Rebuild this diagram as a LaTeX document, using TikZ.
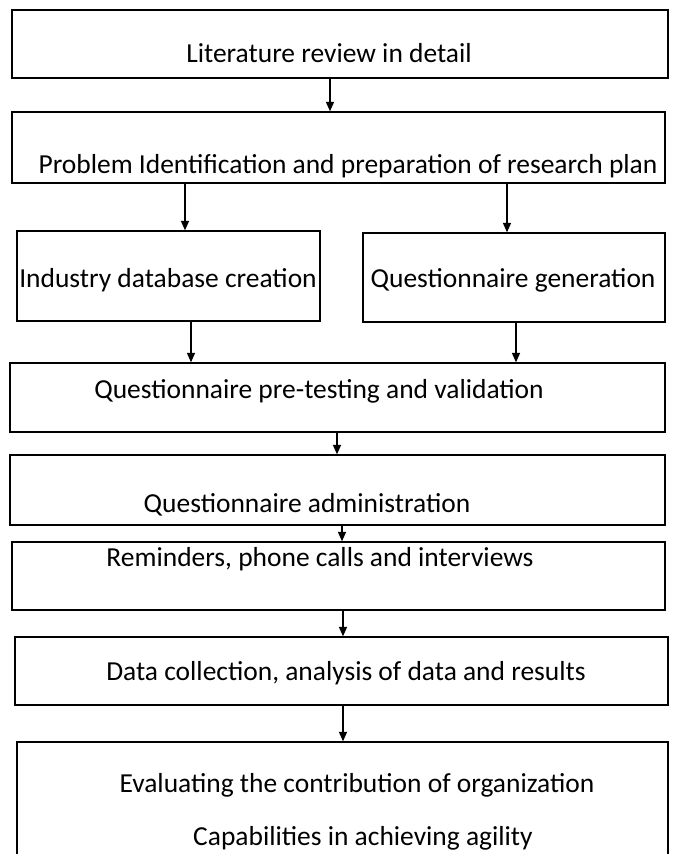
\documentclass[tikz,border=0pt]{standalone}
\usepackage{fontspec}
\setmainfont{Carlito}
\usetikzlibrary{fit,arrows.meta}
\begin{document}
\begin{tikzpicture}[x=0.75pt,y=-0.75pt,
  box/.style={draw=black,line width=1.1pt,inner sep=0pt,fill=none},
  txt/.style={font=\fontsize{20.6}{24}\selectfont,inner sep=0pt,anchor=base},
  arr/.style={line width=1pt,-{Triangle[length=7pt,width=6pt]}}]
\useasboundingbox (0,0) rectangle (675,854);
\clip (0,0) rectangle (675,854);
\fill[white] (0,0) rectangle (675,854);
\node[box,fit={(12,10)(668,78)}] (b1) {};
\node[box,fit={(12,112)(665,183)}] (b2) {};
\node[box,fit={(17,231)(320,321)}] (b3) {};
\node[box,fit={(363,233)(665,322)}] (b4) {};
\node[box,fit={(10,363)(665,432)}] (b5) {};
\node[box,fit={(10,455)(665,525)}] (b6) {};
\node[box,fit={(12,542)(665,610)}] (b7) {};
\node[box,fit={(15,637)(668,705)}] (b8) {};
\node[box,fit={(17,742)(668,900)}] (b9) {};
\node[txt] (t1) at (329,62) {Literature review in detail};
\node[txt] (t2) at (348,173) {Problem Identification and preparation of research plan};
\node[txt] (t3) at (168,287) {Industry database creation};
\node[txt] (t4) at (513,287) {Questionnaire generation};
\node[txt] (t5) at (319,398) {Questionnaire pre-testing and validation};
\node[txt] (t6) at (307,512) {Questionnaire administration};
\node[txt] (t7) at (320,566) {Reminders, phone calls and interviews};
\node[txt] (t8) at (346,680) {Data collection, analysis of data and results};
\node[txt] (t9a) at (357,792) {Evaluating the contribution of organization};
\node[txt] (t9b) at (363,845) {Capabilities in achieving agility};
\draw[arr] (b1.south -| 330,0) -- (b2.north -| 330,0);
\draw[arr] (b2.south -| 185,0) -- (b3.north -| 185,0);
\draw[arr] (b2.south -| 507,0) -- (b4.north -| 507,0);
\draw[arr] (b3.south -| 191,0) -- (b5.north -| 191,0);
\draw[arr] (b4.south -| 516,0) -- (b5.north -| 516,0);
\draw[arr] (b5.south -| 337,0) -- (b6.north -| 337,0);
\draw[arr] (b6.south -| 342,0) -- (b7.north -| 342,0);
\draw[arr] (b7.south -| 343,0) -- (b8.north -| 343,0);
\draw[arr] (b8.south -| 343,0) -- (b9.north -| 343,0);
\end{tikzpicture}
\end{document}
